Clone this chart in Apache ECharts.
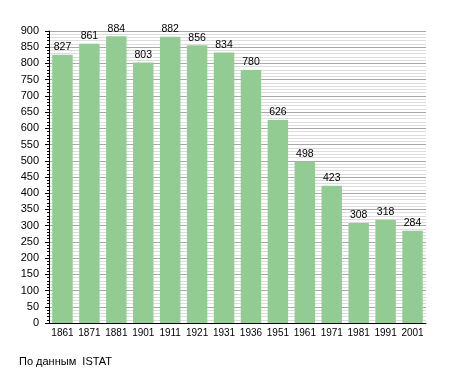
<!DOCTYPE html>
<html><head><meta charset="utf-8">
<script src="https://cdn.jsdelivr.net/npm/echarts@6/dist/echarts.min.js"></script>
<style>html,body{margin:0;padding:0;background:#fff}#c{width:455px;height:373px}</style>
</head><body><div id="c"></div>
<script>
const years = ['1861','1871','1881','1901','1911','1921','1931','1936','1951','1961','1971','1981','1991','2001'];
const population = [827,861,884,803,882,856,834,780,626,498,423,308,318,284];
const chart = echarts.init(document.getElementById('c'), null, {renderer:'canvas'});
const font = 'Liberation Sans, Arial, sans-serif';
chart.setOption({
  animation:false,
  backgroundColor:'#fff',
  grid:{left:49,right:29,top:31,bottom:50,containLabel:false},
  xAxis:{type:'category',data:years,
    axisLine:{lineStyle:{color:'#000',width:1}},
    axisTick:{show:false},
    axisLabel:{color:'#000',fontSize:10,fontFamily:font,margin:5,interval:0}},
  yAxis:{type:'value',min:0,max:900,interval:50,
    axisLine:{show:true,lineStyle:{color:'#000'}},
    axisTick:{show:true,length:4,lineStyle:{color:'#000'}},
    minorTick:{show:true,splitNumber:5,length:2,lineStyle:{color:'#000'}},
    axisLabel:{color:'#000',fontSize:11,fontFamily:font,margin:10},
    splitLine:{lineStyle:{color:'#a8a8a8',width:1}},
    minorSplitLine:{show:true,lineStyle:{color:'#dcdcdc',width:1}}},
  series:[{type:'bar',data:population,barCategoryGap:'24%',
    itemStyle:{color:'#93cc93'},
    label:{show:true,position:'top',distance:2,color:'#000',fontSize:10.5,fontFamily:font}}],
  graphic:[{type:'text',left:19,top:356,style:{text:'По данным  ISTAT',fill:'#000',font:'11px '+font}}]
});
</script></body></html>
